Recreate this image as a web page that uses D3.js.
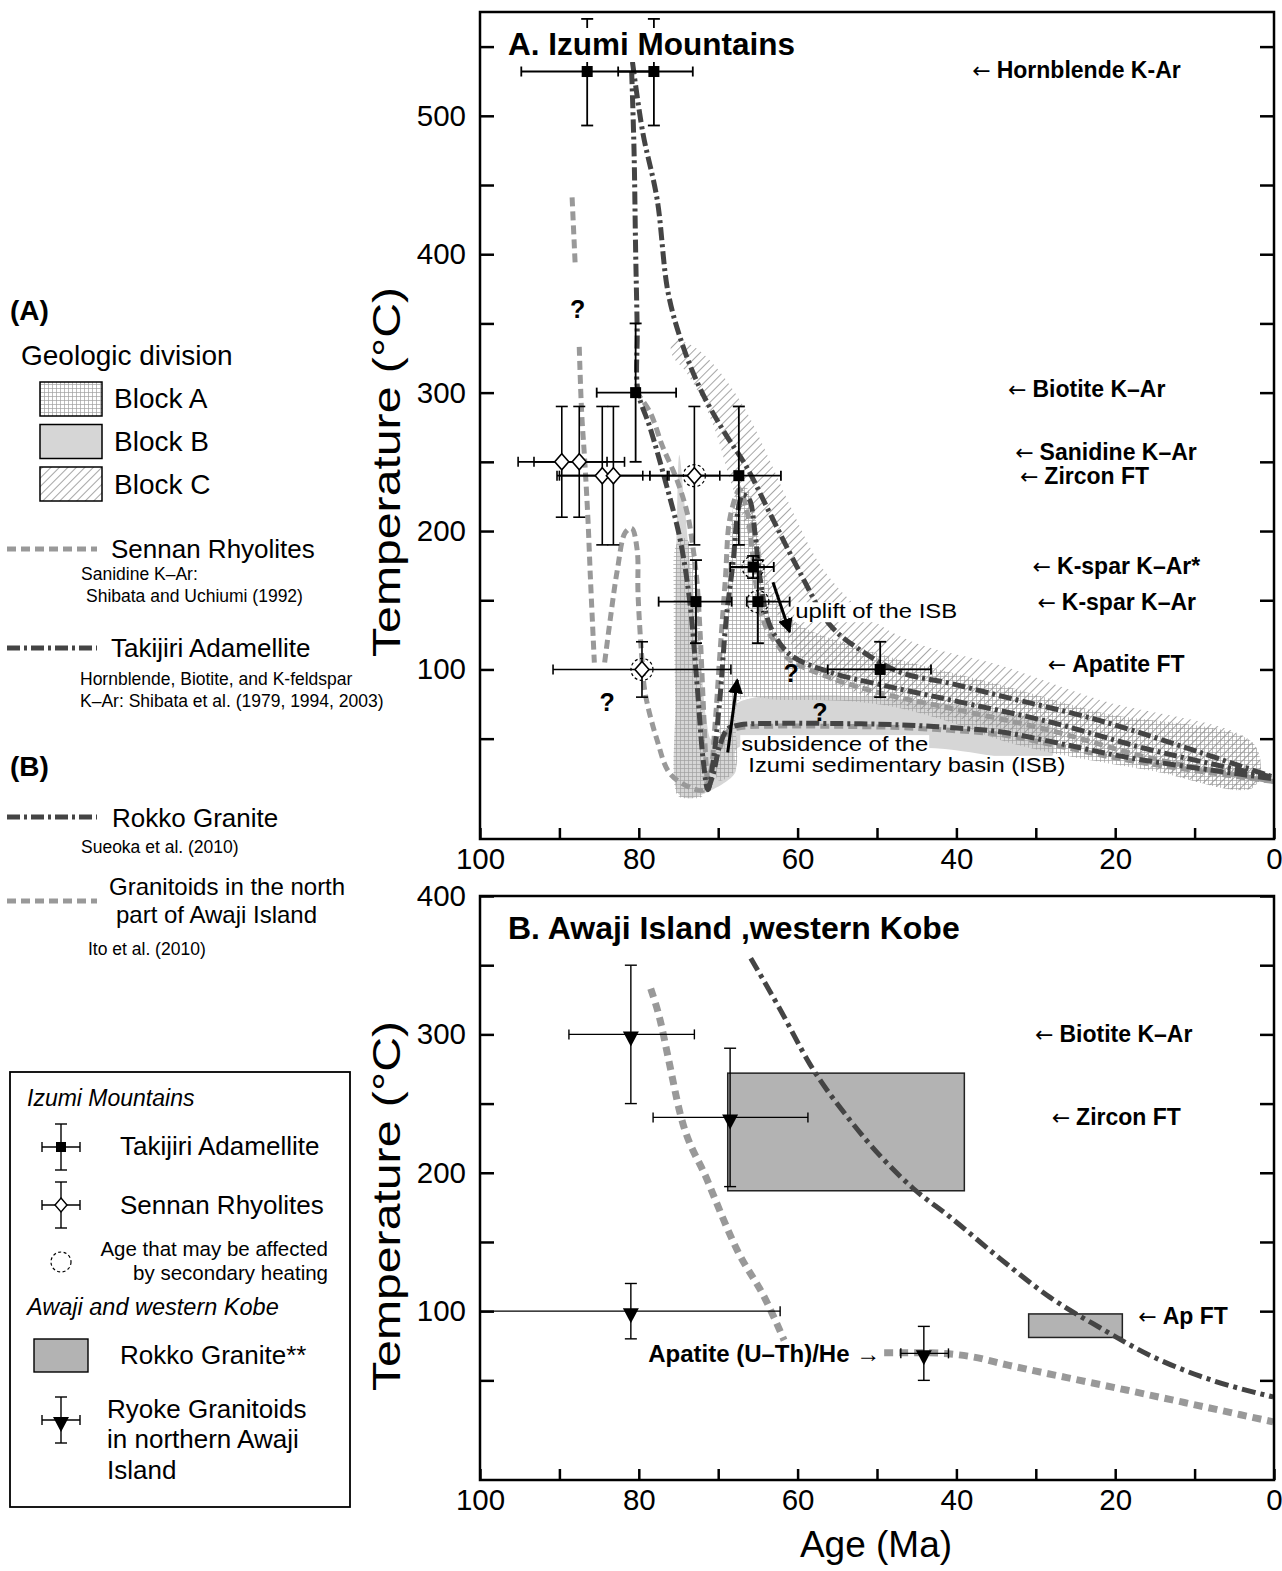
<!DOCTYPE html>
<html>
<head>
<meta charset="utf-8">
<script src="https://cdn.jsdelivr.net/npm/d3@7"></script>
<style>
  body { margin: 0; background: #fff; }
  svg { display: block; font-family: "Liberation Sans", Arial, Helvetica, sans-serif; }
</style>
</head>
<body>
<svg id="chart" width="1282" height="1571"></svg>
<script>
// ─── DATA (age in Ma, temperature in °C) ───

// Panel A: Takijiri Adamellite (filled squares)
const takijiriPts = [
  { age: 86.5, t: 532, a0: 94.8, a1: 78.0, t0: 493, t1: 570 },
  { age: 78.1, t: 532, a0: 82.6, a1: 73.2, t0: 493, t1: 570 },
  { age: 80.4, t: 300, a0: 85.3, a1: 75.3, t0: 250, t1: 350 },
  { age: 67.4, t: 240, a0: 78.6, a1: 62.1, t0: 190, t1: 290 },
  { age: 65.6, t: 174, a0: 68.5, a1: 63.0, t0: 166, t1: 182, heated: true },
  { age: 72.8, t: 149, a0: 77.5, a1: 68.3, t0: 119, t1: 179 },
  { age: 65.0, t: 149, a0: 66.4, a1: 61.0, t0: 119, t1: 179, heated: true },
  { age: 49.6, t: 100, a0: 56.2, a1: 43.2, t0: 80, t1: 120 }
];

// Panel A: Sennan Rhyolites (open diamonds)
const sennanPts = [
  { age: 89.7, t: 250, a0: 95.2, a1: 84.0, t0: 210, t1: 290 },
  { age: 87.5, t: 250, a0: 93.2, a1: 81.8, t0: 210, t1: 290 },
  { age: 84.6, t: 240, a0: 90.3, a1: 79.5, t0: 190, t1: 290 },
  { age: 83.2, t: 240, a0: 90.0, a1: 76.4, t0: 190, t1: 290 },
  { age: 73.0, t: 240, a0: 76.2, a1: 69.8, t0: 190, t1: 290, heated: true },
  { age: 79.6, t: 100, a0: 90.8, a1: 68.4, t0: 80, t1: 120, heated: true }
];

// Panel A: geologic blocks (outline of shaded areas)
const blockB = [[74.9,255],[74.3,223],[73.6,179],[72.3,114],[71.5,64],[70.8,49],[69.1,56],[67.9,74],[66.0,79],
  [59.7,81],[49.6,80],[40.8,75],[34.5,69],[28.2,60],[28.2,35],[34.5,37],[42.7,43],[67.6,43],[67.9,25],
  [72.3,9],[73.8,7],[75.1,11],[75.4,78],[75.4,150],[75.2,208]];
const blockA1 = [[75.3,190],[74.3,195],[73.3,188],[72.5,150],[72.0,78],[71.9,9],[73.6,7],[75.1,9],[75.4,78],[75.6,150]];
const blockA2 = [[70.0,20],[69.5,78],[68.9,150],[68.3,208],[67.5,232],[66.5,232],[65.5,215],[64.4,179],[62.8,150],
  [59.7,132],[53.4,118],[47.1,107],[34.5,89],[21.9,69],[2.5,46],[2.5,15],[15.6,27],[28.2,40],[34.5,49],
  [40.8,62],[47.1,72],[53.4,77],[62.2,78],[67.3,78],[67.9,27]];
const blockC = [[75.8,338],[73.6,335],[71.7,327],[69.8,315],[66.6,288],[63.5,251],[61.0,219],[57.2,176],[53.4,150],
  [49.6,132],[44.6,118],[34.5,103],[21.9,78],[2.5,46],[2.5,15],[21.9,40],[34.5,58],[40.8,66],[47.1,75],
  [53.4,85],[57.2,96],[60.3,114],[62.8,143],[64.7,172],[66.6,204],[68.5,237],[70.4,273],[72.3,298],[74.2,316],[75.8,327]];

// Panel A: Sennan Rhyolites T-t paths (grey dashed)
const sennanPaths = [
  [[88.4,441],[88.0,391]],
  [[87.5,333],[87.2,286],[86.8,250],[86.4,208],[86.1,167],[85.6,105]],
  [[84.3,105],[83.6,136],[82.7,172],[81.7,199],[80.9,202],[80.2,186],[80.1,155],[79.6,107],[79.2,83],[77.7,49],
   [76.1,25],[73.6,15],[71.9,13],[71.0,25],[70.4,60],[69.8,110],[69.1,165],[68.5,210],[67.3,230],[66.4,215],
   [65.8,190],[65.2,160],[64.1,132],[62.2,115],[61.0,107],[55.9,94],[49.6,83],[40.8,72],[28.2,56],[15.6,36],[0,19]],
  [[80.4,301],[78.6,286],[77.0,261],[75.2,237],[73.9,213],[73.2,189],[72.7,165],[72.3,129],[71.9,78],[71.5,30],[71.2,14]],
  [[69.8,43],[68.8,55],[67.2,58],[63.5,59],[56.2,59],[47.1,58],[40.8,56],[34.5,53],[28.2,46],[18,34],[0,19]]
];

// Panel A: Takijiri Adamellite T-t paths (dark dash-dot)
const takijiriPaths = [
  [[80.9,532],[80.6,475],[80.4,403],[80.2,345],[80.1,301],[78.6,275],[76.7,237],[74.8,194],[73.6,150],[72.7,92],
   [71.9,35],[71.3,13],[70.6,35],[69.8,78],[69.0,136],[68.1,179],[67.5,215],[66.9,226],[66.1,223],[65.4,200],
   [64.7,165],[63.5,132],[61.0,111],[55.9,98],[49.6,89],[40.8,78],[28.2,62],[15.6,42],[0,22]],
  [[80.8,539],[79.5,488],[77.7,440],[76.3,372],[74.4,333],[72.2,302],[69.4,273],[66.4,246],[63.5,213],[59.7,170],
   [55.9,132],[52.1,114],[47.1,98],[40.8,90],[34.5,81],[21.9,63],[9.3,40],[0,22]],
  [[71.3,13],[70.6,25],[69.8,45],[68.8,57],[67.2,60],[63.5,61],[56.2,61],[47.1,60],[40.8,58],[34.5,55],
   [28.2,48],[18,36],[0,21]]
];

// Panel A: closure-temperature labels
const closureA = [
  { label: 'Hornblende K-Ar', age: 38.0, t: 533 },
  { label: 'Biotite K–Ar', age: 33.5, t: 303 },
  { label: 'Sanidine K–Ar', age: 32.6, t: 257 },
  { label: 'Zircon FT', age: 32.0, t: 240 },
  { label: 'K-spar K–Ar*', age: 30.4, t: 175 },
  { label: 'K-spar K–Ar', age: 29.8, t: 149 },
  { label: 'Apatite FT', age: 28.5, t: 104 }
];
const questionMarks = [[87.7, 360], [84.0, 76], [60.8, 97.5], [57.2, 69]];
const arrowsA = [
  { from: [63.1, 163], to: [61.0, 127] },
  { from: [68.8, 40], to: [67.6, 92.5] }
];
const notesA = [
  { text: 'uplift of the ISB', age: 60.3, t: 137, len: 162 },
  { text: 'subsidence of the', age: 67.1, t: 41, len: 187 },
  { text: 'Izumi sedimentary basin (ISB)', age: 66.2, t: 26, len: 317 }
];

// Panel B: Ryoke Granitoids (filled down triangles)
const ryokePts = [
  { age: 81.0, t: 300, a0: 88.8, a1: 73.0, t0: 250, t1: 350 },
  { age: 68.5, t: 240, a0: 78.2, a1: 58.7, t0: 190, t1: 290 },
  { age: 81.0, t: 100, a0: 100, a1: 62.2, t0: 80, t1: 120 },
  { age: 44.1, t: 69.5, a0: 47.0, a1: 41.0, t0: 50, t1: 89 }
];
// Panel B: Rokko Granite boxes
const rokkoBoxes = [
  { a0: 68.8, a1: 39.0, t0: 187, t1: 272 },
  { a0: 30.9, a1: 19.1, t0: 81, t1: 98 }
];
const rokkoPath = [[65.9,355],[62.2,318],[58.4,278],[53.4,238],[45.5,189],[40.8,168],[34.5,138],[28.2,110],
  [21.9,88],[15.6,68],[9.3,53],[0.1,38]];
const awajiPaths = [
  [[78.5,333],[77.3,310],[76.4,286],[74.8,243],[71.4,195],[67.6,144],[64.0,108],[61.7,79]],
  [[49.1,70],[44.0,70],[38.0,67],[33.5,61],[26.1,52],[18.6,43],[11.3,34],[0.1,20]]
];
const closureB = [
  { label: 'Biotite K–Ar', age: 30.1, t: 300 },
  { label: 'Zircon FT', age: 28.0, t: 240 },
  { label: 'Ap FT', age: 17.1, t: 96.5 }
];
const heNote = { text: 'Apatite (U–Th)/He →', age: 49.6, t: 69 };

const ageTicks = d3.range(0, 101, 10);
const ageLabels = [0, 20, 40, 60, 80, 100];

// ─── SCALES ───
const X0 = 480, X1 = 1274;
const x = d3.scaleLinear().domain([100, 0]).range([X0, X1]);
const yA = d3.scaleLinear().domain([-22.5, 575]).range([839, 12]);
const yB = d3.scaleLinear().domain([-22, 400]).range([1480, 896]);

const GREY = '#999999', DARK = '#444444';
const svg = d3.select('#chart');
const defs = svg.append('defs');

const pGrid = defs.append('pattern').attr('id', 'grid').attr('patternUnits', 'userSpaceOnUse')
  .attr('width', 4).attr('height', 4);
pGrid.append('path').attr('d', 'M0,0.5H4M0.5,0V4').attr('stroke', '#a0a0a0').attr('stroke-width', 0.7).attr('fill', 'none');
const pHatch = defs.append('pattern').attr('id', 'hatch').attr('patternUnits', 'userSpaceOnUse')
  .attr('width', 6).attr('height', 6).attr('patternTransform', 'rotate(45)');
pHatch.append('path').attr('d', 'M0.5,0V6').attr('stroke', '#8f8f8f').attr('stroke-width', 0.8);

[['clipA', yA], ['clipB', yB]].forEach(([id, y]) => {
  defs.append('clipPath').attr('id', id).append('rect')
    .attr('x', X0).attr('y', y.range()[1]).attr('width', X1 - X0).attr('height', y.range()[0] - y.range()[1]);
});

// ─── HELPERS ───
const smooth = (y) => d3.line().x(d => x(d[0])).y(d => y(d[1])).curve(d3.curveCatmullRom.alpha(0.5));
const mono = (y) => d3.line().x(d => x(d[0])).y(d => y(d[1])).curve(d3.curveMonotoneX);
const closed = (y) => d3.line().x(d => x(d[0])).y(d => y(d[1])).curve(d3.curveCatmullRomClosed.alpha(0.5));

const drawFrame = (y, yTicks, yLabels) => {
  const g = svg.append('g').attr('class', 'axes');
  const [yb, yt] = y.range();
  g.append('g').attr('transform', `translate(${X0},0)`)
    .call(d3.axisLeft(y).tickValues(yTicks).tickSize(-14).tickPadding(14)
      .tickFormat(d => yLabels.includes(d) ? d : ''));
  g.append('g').attr('transform', `translate(${X1},0)`)
    .call(d3.axisRight(y).tickValues(yTicks).tickSize(-14).tickFormat(''));
  g.append('g').attr('transform', `translate(0,${yb})`)
    .call(d3.axisBottom(x).tickValues(ageTicks).tickSize(-11).tickPadding(9)
      .tickFormat(d => ageLabels.includes(d) ? d : ''));
  g.selectAll('.domain').remove();
  g.selectAll('.tick line').attr('stroke', '#000').attr('stroke-width', 2.5);
  g.selectAll('.tick text').attr('font-size', 29.5).attr('fill', '#000').attr('font-family', 'Liberation Sans, Arial, sans-serif');
  g.append('rect').attr('x', X0).attr('y', yt).attr('width', X1 - X0).attr('height', yb - yt)
    .attr('fill', 'none').attr('stroke', '#000').attr('stroke-width', 2.5);
};

const drawErrors = (g, y, pts, w) => {
  pts.forEach(p => {
    const cx = x(p.age), cy = y(p.t);
    const e = g.append('g').attr('stroke', '#000').attr('stroke-width', w);
    e.append('line').attr('x1', x(p.a0)).attr('x2', x(p.a1)).attr('y1', cy).attr('y2', cy);
    e.append('line').attr('x1', cx).attr('x2', cx).attr('y1', y(p.t0)).attr('y2', y(p.t1));
    [p.a0, p.a1].forEach(a => e.append('line').attr('x1', x(a)).attr('x2', x(a)).attr('y1', cy - 5).attr('y2', cy + 5));
    [p.t0, p.t1].forEach(t => e.append('line').attr('x1', cx - 6).attr('x2', cx + 6).attr('y1', y(t)).attr('y2', y(t)));
  });
};

const closureLabels = (g, y, items) => {
  items.forEach(d => {
    const t = g.append('text').attr('x', x(d.age)).attr('y', y(d.t)).attr('dy', '0.35em')
      .attr('font-size', 23).attr('font-weight', 'bold');
    t.append('tspan').attr('font-weight', 'normal').attr('font-family', '"DejaVu Sans", sans-serif')
      .attr('font-size', 22).text('←');
    t.append('tspan').attr('dx', 6).text(d.label);
  });
};

const whiteBehind = (g, sel, pad = 1) => {
  sel.each(function () {
    const b = this.getBBox();
    g.insert('rect', () => this).attr('x', b.x - pad).attr('y', b.y + 2).attr('width', b.width + 2 * pad)
      .attr('height', b.height - 2).attr('fill', '#fff');
  });
};

// ─── PANEL A ───
const gA = svg.append('g').attr('clip-path', 'url(#clipA)');
gA.append('path').attr('d', closed(yA)(blockB)).attr('fill', '#d6d6d6');
gA.append('path').attr('d', closed(yA)(blockA1)).attr('fill', 'url(#grid)');
gA.append('path').attr('d', closed(yA)(blockA2)).attr('fill', 'url(#grid)');
gA.append('path').attr('d', closed(yA)(blockC)).attr('fill', 'url(#hatch)');

sennanPaths.forEach(p => gA.append('path').attr('d', smooth(yA)(p)).attr('fill', 'none')
  .attr('stroke', GREY).attr('stroke-width', 5).attr('stroke-dasharray', '9,5'));
takijiriPaths.forEach(p => gA.append('path').attr('d', smooth(yA)(p)).attr('fill', 'none')
  .attr('stroke', DARK).attr('stroke-width', 5).attr('stroke-dasharray', '13,4,3,4'));

const aNotes = svg.append('g').attr('font-size', 20);
const noteText = aNotes.selectAll('text').data(notesA).join('text')
  .attr('x', d => x(d.age)).attr('y', d => yA(d.t))
  .attr('textLength', d => d.len).attr('lengthAdjust', 'spacingAndGlyphs').text(d => d.text);
whiteBehind(aNotes, noteText);

const aMarks = svg.append('g');
drawErrors(aMarks, yA, sennanPts, 1.6);
drawErrors(aMarks, yA, takijiriPts, 1.8);
aMarks.selectAll('.sq').data(takijiriPts).join('rect').attr('class', 'sq')
  .attr('x', d => x(d.age) - 5.5).attr('y', d => yA(d.t) - 5.5).attr('width', 11).attr('height', 11).attr('fill', '#000');
aMarks.selectAll('.dia').data(sennanPts).join('path').attr('class', 'dia')
  .attr('transform', d => `translate(${x(d.age)},${yA(d.t)})`)
  .attr('d', 'M0,-8L7,0L0,8L-7,0Z').attr('fill', '#fff').attr('stroke', '#000').attr('stroke-width', 1.6);
aMarks.selectAll('.heat').data([...takijiriPts, ...sennanPts].filter(d => d.heated)).join('circle').attr('class', 'heat')
  .attr('cx', d => x(d.age)).attr('cy', d => yA(d.t)).attr('r', 11)
  .attr('fill', 'none').attr('stroke', '#000').attr('stroke-width', 1.2).attr('stroke-dasharray', '3,2.5');

defs.append('marker').attr('id', 'head').attr('viewBox', '0 0 10 10').attr('refX', 9).attr('refY', 5)
  .attr('markerWidth', 5).attr('markerHeight', 5).attr('orient', 'auto')
  .append('path').attr('d', 'M0,0L10,5L0,10Z').attr('fill', '#000');
aMarks.selectAll('.arr').data(arrowsA).join('line').attr('class', 'arr')
  .attr('x1', d => x(d.from[0])).attr('y1', d => yA(d.from[1]))
  .attr('x2', d => x(d.to[0])).attr('y2', d => yA(d.to[1]))
  .attr('stroke', '#000').attr('stroke-width', 3).attr('marker-end', 'url(#head)');
aMarks.selectAll('.q').data(questionMarks).join('text').attr('class', 'q')
  .attr('x', d => x(d[0])).attr('y', d => yA(d[1])).attr('dy', '0.35em').attr('text-anchor', 'middle')
  .attr('font-size', 25).attr('font-weight', 'bold').text('?');

closureLabels(svg.append('g'), yA, closureA);
drawFrame(yA, d3.range(50, 551, 50), [100, 200, 300, 400, 500]);
const titleA = svg.append('g');
const tA = titleA.append('text').attr('x', 508).attr('y', 55).attr('font-size', 31.5).attr('font-weight', 'bold').text('A. Izumi Mountains');
whiteBehind(titleA, tA, 2);

// ─── PANEL B ───
const gB = svg.append('g').attr('clip-path', 'url(#clipB)');
gB.selectAll('.box').data(rokkoBoxes).join('rect').attr('class', 'box')
  .attr('x', d => x(d.a0)).attr('y', d => yB(d.t1))
  .attr('width', d => x(d.a1) - x(d.a0)).attr('height', d => yB(d.t0) - yB(d.t1))
  .attr('fill', '#b3b3b3').attr('stroke', '#222').attr('stroke-width', 1.5);
awajiPaths.forEach(p => gB.append('path').attr('d', mono(yB)(p)).attr('fill', 'none')
  .attr('stroke', GREY).attr('stroke-width', 7).attr('stroke-dasharray', '9,6'));
gB.append('path').attr('d', mono(yB)(rokkoPath)).attr('fill', 'none')
  .attr('stroke', DARK).attr('stroke-width', 5).attr('stroke-dasharray', '14,5,4,5');

const bMarks = svg.append('g');
drawErrors(bMarks, yB, ryokePts, 1.4);
bMarks.selectAll('.tri').data(ryokePts).join('path').attr('class', 'tri')
  .attr('transform', d => `translate(${x(d.age)},${yB(d.t) + 3})`)
  .attr('d', 'M-8,-6L8,-6L0,9Z').attr('fill', '#000');

closureLabels(svg.append('g'), yB, closureB);
svg.append('text').attr('x', x(heNote.age)).attr('y', yB(heNote.t)).attr('dy', '0.35em')
  .attr('text-anchor', 'end').attr('font-size', 24).attr('font-weight', 'bold')
  .attr('font-family', '"Liberation Sans Narrow", "Arial Narrow", sans-serif').text(heNote.text);

drawFrame(yB, d3.range(50, 401, 50), [100, 200, 300, 400]);
svg.append('text').attr('x', 508).attr('y', 939).attr('font-size', 32).attr('font-weight', 'bold').text('B. Awaji Island ,western Kobe');

// axis titles
[472, 1206].forEach(cy => {
  svg.append('text').attr('transform', `translate(400,${cy}) rotate(-90)`).attr('text-anchor', 'middle')
    .attr('font-size', 39).attr('textLength', 370).attr('lengthAdjust', 'spacingAndGlyphs').text('Temperature (°C)');
});
svg.append('text').attr('x', 876).attr('y', 1557).attr('text-anchor', 'middle').attr('font-size', 37).text('Age (Ma)');

// ─── LEFT LEGEND ───
const lg = svg.append('g');
const txt = (xx, yy, s, size, extra = {}) => {
  const t = lg.append('text').attr('x', xx).attr('y', yy).attr('font-size', size).text(s);
  Object.entries(extra).forEach(([k, v]) => t.attr(k, v));
  return t;
};
txt(10, 320, '(A)', 28, { 'font-weight': 'bold' });
txt(21, 365, 'Geologic division', 28);
[['url(#grid)', 'Block A'], ['#d6d6d6', 'Block B'], ['url(#hatch)', 'Block C']].forEach(([f, s], i) => {
  lg.append('rect').attr('x', 40).attr('y', 382 + i * 42.5).attr('width', 62).attr('height', 34)
    .attr('fill', f).attr('stroke', '#000').attr('stroke-width', 1.5);
  txt(114, 408 + i * 43, s, 28);
});
const legLine = (yy, color, dash) => lg.append('line').attr('x1', 7).attr('x2', 97).attr('y1', yy).attr('y2', yy)
  .attr('stroke', color).attr('stroke-width', 5).attr('stroke-dasharray', dash);
legLine(549, GREY, '9,5');
txt(111, 558, 'Sennan Rhyolites', 26);
txt(81, 580, 'Sanidine K–Ar:', 17.5);
txt(86, 602, 'Shibata and Uchiumi (1992)', 17.5);
legLine(648, DARK, '13,4,3,4');
txt(111, 657, 'Takijiri Adamellite', 26);
txt(80, 685, 'Hornblende, Biotite, and K-feldspar', 17.5);
txt(80, 707, 'K–Ar: Shibata et al. (1979, 1994, 2003)', 17.5);
txt(10, 776, '(B)', 28, { 'font-weight': 'bold' });
legLine(817, DARK, '13,4,3,4');
txt(112, 827, 'Rokko Granite', 26);
txt(81, 853, 'Sueoka et al. (2010)', 17.5);
legLine(901, GREY, '9,5');
txt(109, 895, 'Granitoids in the north', 24);
txt(116, 923, 'part of Awaji Island', 24);
txt(88, 955, 'Ito et al. (2010)', 17.5);

// ─── BOTTOM LEGEND BOX ───
const bx = svg.append('g');
bx.append('rect').attr('x', 10).attr('y', 1072).attr('width', 340).attr('height', 435)
  .attr('fill', '#fff').attr('stroke', '#000').attr('stroke-width', 1.8);
const btxt = (xx, yy, s, size, extra = {}) => {
  const t = bx.append('text').attr('x', xx).attr('y', yy).attr('font-size', size).text(s);
  Object.entries(extra).forEach(([k, v]) => t.attr(k, v));
  return t;
};
const legErr = (cy) => {
  const e = bx.append('g').attr('stroke', '#000').attr('stroke-width', 1.4);
  e.append('line').attr('x1', 42).attr('x2', 80).attr('y1', cy).attr('y2', cy);
  e.append('line').attr('x1', 61).attr('x2', 61).attr('y1', cy - 23).attr('y2', cy + 23);
  [42, 80].forEach(xx => e.append('line').attr('x1', xx).attr('x2', xx).attr('y1', cy - 5).attr('y2', cy + 5));
  [cy - 23, cy + 23].forEach(yy => e.append('line').attr('x1', 55).attr('x2', 67).attr('y1', yy).attr('y2', yy));
};
btxt(27, 1106, 'Izumi Mountains', 23, { 'font-style': 'italic' });
legErr(1147);
bx.append('rect').attr('x', 56).attr('y', 1142).attr('width', 10).attr('height', 10).attr('fill', '#000');
btxt(120, 1155, 'Takijiri Adamellite', 26);
legErr(1205);
bx.append('path').attr('transform', 'translate(61,1205)').attr('d', 'M0,-7L6,0L0,7L-6,0Z')
  .attr('fill', '#fff').attr('stroke', '#000').attr('stroke-width', 1.4);
btxt(120, 1214, 'Sennan Rhyolites', 26);
bx.append('circle').attr('cx', 61).attr('cy', 1262).attr('r', 10).attr('fill', 'none')
  .attr('stroke', '#000').attr('stroke-width', 1.2).attr('stroke-dasharray', '3,2.5');
btxt(328, 1256, 'Age that may be affected', 20.5, { 'text-anchor': 'end' });
btxt(328, 1280, 'by secondary heating', 20.5, { 'text-anchor': 'end' });
btxt(27, 1315, 'Awaji and western Kobe', 23.5, { 'font-style': 'italic' });
bx.append('rect').attr('x', 34).attr('y', 1339).attr('width', 54).attr('height', 33)
  .attr('fill', '#b3b3b3').attr('stroke', '#000').attr('stroke-width', 1.4);
btxt(120, 1364, 'Rokko Granite**', 26);
legErr(1420);
bx.append('path').attr('transform', 'translate(61,1423)').attr('d', 'M-8,-6L8,-6L0,9Z').attr('fill', '#000');
btxt(107, 1418, 'Ryoke Granitoids', 26);
btxt(107, 1448, 'in northern Awaji', 26);
btxt(107, 1479, 'Island', 26);
</script>
</body>
</html>
